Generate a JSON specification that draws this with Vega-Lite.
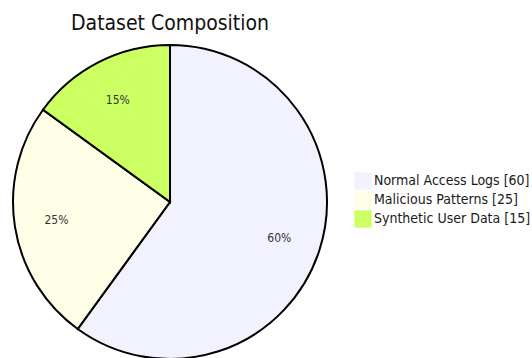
{
  "$schema": "https://vega.github.io/schema/vega-lite/v6.json",
  "width": 340,
  "height": 314,
  "autosize": {"type": "none"},
  "padding": {"left": 0, "top": 45, "right": 192, "bottom": 0},
  "background": "white",
  "title": {
    "text": "Dataset Composition",
    "anchor": "start",
    "dx": 71,
    "offset": 7,
    "fontSize": 21,
    "font": "DejaVu Sans Condensed",
    "fontWeight": "normal",
    "color": "#111111"
  },
  "data": {
    "values": [
      {"idx": 1, "name": "Normal Access Logs", "value": 60},
      {"idx": 2, "name": "Malicious Patterns", "value": 25},
      {"idx": 3, "name": "Synthetic User Data", "value": 15}
    ]
  },
  "transform": [
    {"calculate": "datum.name + ' [' + datum.value + ']'", "as": "legendLabel"},
    {"calculate": "datum.value + '%'", "as": "pct"}
  ],
  "encoding": {
    "theta": {"field": "value", "type": "quantitative", "stack": true},
    "order": {"field": "idx", "type": "quantitative"},
    "color": {
      "field": "legendLabel",
      "type": "nominal",
      "sort": null,
      "scale": {
        "domain": ["Normal Access Logs [60]", "Malicious Patterns [25]", "Synthetic User Data [15]"],
        "range": ["#ECECFF", "#ffffde", "#b5ff20"]
      },
      "legend": {
        "title": null,
        "orient": "none",
        "legendX": 354,
        "legendY": 127,
        "symbolType": "square",
        "symbolSize": 300,
        "symbolStrokeWidth": 0,
        "symbolOpacity": 0.7,
        "labelFont": "DejaVu Sans Condensed",
        "labelFontSize": 14,
        "labelColor": "#1a1a1a",
        "labelLimit": 0,
        "rowPadding": 1,
        "labelOffset": 2
      }
    }
  },
  "layer": [
    {
      "mark": {"type": "arc", "outerRadius": 157, "stroke": "black", "strokeWidth": 2, "fillOpacity": 0.7}
    },
    {
      "mark": {"type": "text", "radius": 115, "font": "DejaVu Sans Condensed", "fontSize": 12, "color": "#333333"},
      "encoding": {
        "text": {"field": "pct", "type": "nominal"},
        "color": {"value": "#333333"}
      }
    }
  ]
}
